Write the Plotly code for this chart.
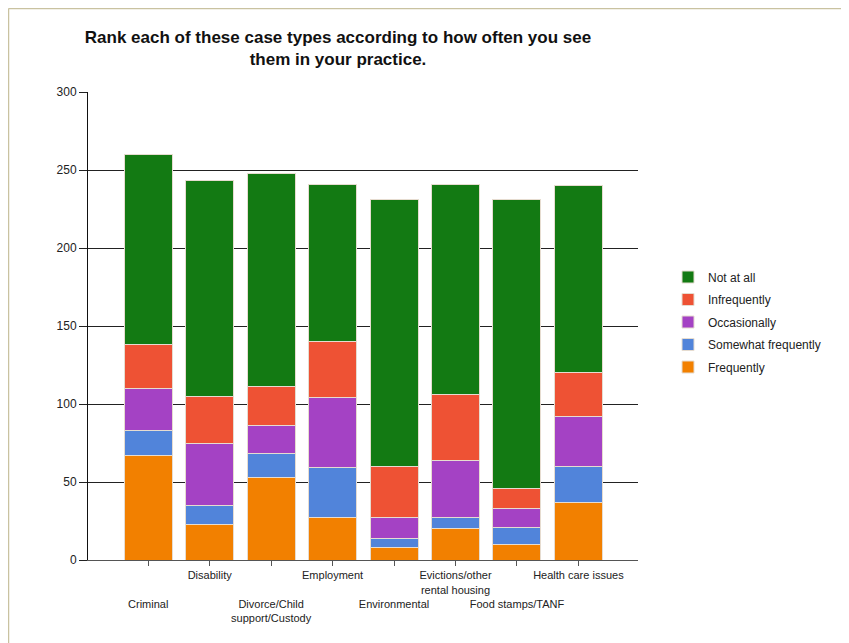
import plotly.graph_objects as go

categories = ["Criminal", "Disability", "Divorce/Child support/Custody", "Employment",
              "Environmental", "Evictions/other rental housing", "Food stamps/TANF",
              "Health care issues"]
tick_labels = ["<br><br>Criminal", "Disability", "<br><br>Divorce/Child<br>support/Custody",
               "Employment", "<br><br>Environmental", "Evictions/other<br>rental housing",
               "<br><br>Food stamps/TANF", "Health care issues"]

frequently = [67, 23, 53, 27, 8, 20, 10, 37]
somewhat_frequently = [16, 12, 15, 32, 6, 7, 11, 23]
occasionally = [27, 40, 18, 45, 13, 37, 12, 32]
infrequently = [28, 30, 25, 36, 33, 42, 13, 28]
not_at_all = [122, 138, 137, 101, 171, 135, 185, 120]

series = [
    ("Frequently", frequently, "#F28000"),
    ("Somewhat frequently", somewhat_frequently, "#5184DA"),
    ("Occasionally", occasionally, "#A442C4"),
    ("Infrequently", infrequently, "#EE5234"),
    ("Not at all", not_at_all, "#137A13"),
]

fig = go.Figure()
for i, (name, vals, color) in enumerate(series):
    fig.add_trace(go.Bar(
        x=categories, y=vals, name=name, legendgroup=name,
        legendrank=1000 - i,
        marker=dict(color=color, line=dict(color="#E6DCD0", width=1)),
        width=0.78,
    ))

# page has an 8px body margin; figure coordinates = screen - 8
W, H = 841, 635
ml, mt = 80, 84
pw, ph = 550, 468
mr, mb = W - ml - pw, H - mt - ph

fig.update_layout(
    width=W, height=H,
    barmode="stack",
    paper_bgcolor="white", plot_bgcolor="white",
    margin=dict(l=ml, r=mr, t=mt, b=mb, pad=0),
    font=dict(family="Liberation Sans, Arial, sans-serif", size=11, color="#222"),
    title=dict(
        text="Rank each of these case types according to how often you see<br>them in your practice.",
        font=dict(family="Liberation Sans, Arial, sans-serif", size=17, color="#111", weight="bold"),
        x=330 / W, xanchor="center", xref="container",
        y=1 - 35 / H, yanchor="top", yref="container",
    ),
    showlegend=True,
    legend=dict(
        traceorder="grouped", x=(660 - ml) / pw, xanchor="left",
        y=(552 - 314) / ph, yanchor="middle",
        font=dict(size=12, color="#222"), tracegroupgap=3.5,
        bgcolor="rgba(0,0,0,0)",
    ),
    bargap=0.22,
)

fig.update_xaxes(
    type="category", tickmode="array", tickvals=categories, ticktext=tick_labels,
    range=[-0.98, 7.97], showgrid=False, showline=True, linecolor="#555", linewidth=1,
    ticks="outside", ticklen=5, tickcolor="#555", tickangle=0,
    tickfont=dict(size=11, color="#222"),
)
fig.update_yaxes(
    range=[0, 300], dtick=50, showgrid=True, gridcolor="#222", gridwidth=1,
    showline=True, linecolor="#111", linewidth=1, ticks="outside", ticklen=8,
    tickcolor="#222", zeroline=False, tickfont=dict(size=12, color="#222"),
)

# outer frame lines (top and left) as in the reference
fx = (0.5 - ml) / pw
fy = 1 + (mt - 0.5) / ph
fig.add_shape(type="line", xref="paper", yref="paper",
              x0=fx, x1=(W - ml) / pw, y0=fy, y1=fy,
              line=dict(color="#C9C2A0", width=1.5))
fig.add_shape(type="line", xref="paper", yref="paper",
              x0=fx, x1=fx, y0=fy, y1=-(mb) / ph,
              line=dict(color="#C9C2A0", width=1.5))

fig.write_html("out.html")
